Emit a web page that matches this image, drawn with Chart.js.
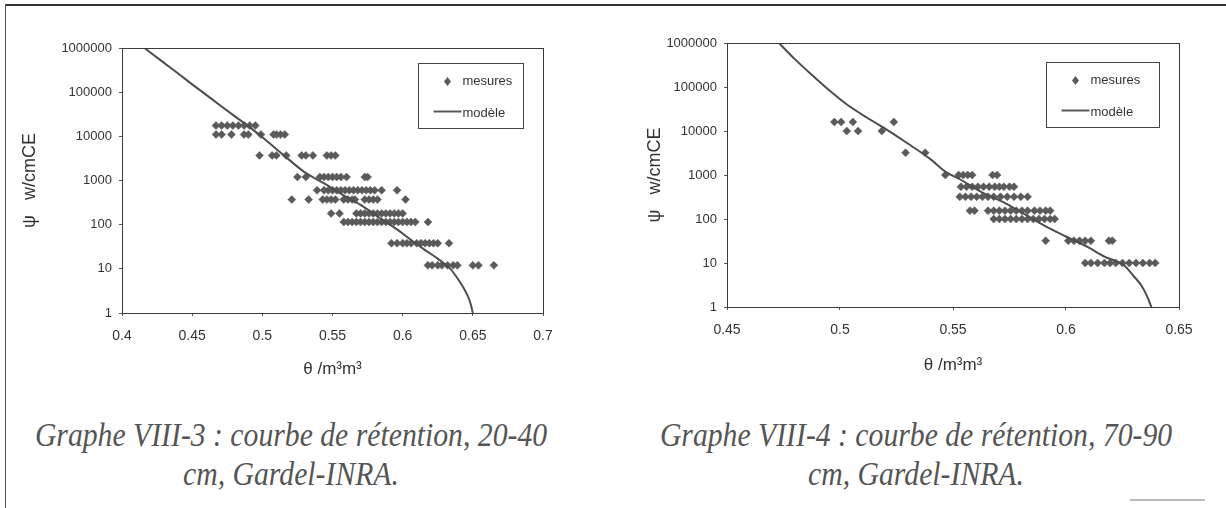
<!DOCTYPE html>
<html>
<head>
<meta charset="utf-8">
<script src="https://cdn.jsdelivr.net/npm/chart.js@4.4.1/dist/chart.umd.min.js"></script>
<style>
  html, body { margin: 0; padding: 0; background: #fff; }
  body { width: 1226px; height: 508px; position: relative; overflow: hidden; }
  .chart { position: absolute; top: 0; height: 400px; }
  #wrap3 { left: 0; width: 600px; }
  #wrap4 { left: 610px; width: 616px; }
  .cap {
    position: absolute; top: 416px; transform: translateX(-50%) scaleX(0.9);
    font-family: "Liberation Serif", "Times New Roman", serif; font-style: italic;
    font-size: 33px; line-height: 39px; color: #555; text-align: center; white-space: nowrap;
  }
  .rule { position: absolute; background: #333; }
</style>
</head>
<body>
<div class="rule" style="left:5px;top:4px;width:1221px;height:2px;"></div>
<div class="rule" style="left:5px;top:4px;width:1px;height:504px;background:#555;"></div>
<div class="rule" style="left:1130px;top:499px;width:75px;height:2px;background:#bbb;"></div>

<div class="chart" id="wrap3"><canvas id="g3" width="600" height="400"></canvas></div>
<div class="chart" id="wrap4"><canvas id="g4" width="616" height="400"></canvas></div>

<div class="cap" style="left:291px;">Graphe VIII-3 : courbe de rétention, 20-40<br>cm, Gardel-INRA.</div>
<div class="cap" style="left:916px;">Graphe VIII-4 : courbe de rétention, 70-90<br>cm, Gardel-INRA.</div>

<script>
/* ── data ─────────────────────────────────────────────────────── */

const psiTicks = [1, 10, 100, 1000, 10000, 100000, 1000000];

/* Graphe VIII-3 : 20-40 cm */
const g3ThetaTicks = [0.4, 0.45, 0.5, 0.55, 0.6, 0.65, 0.7];
const g3Levels = [17500, 11000, 3700, 1200, 600, 370, 180, 115, 38, 12];
const g3Theta = [
  [0.467, 0.471, 0.475, 0.479, 0.483, 0.487, 0.491, 0.495],
  [0.467, 0.471, 0.478, 0.487, 0.490, 0.499, 0.508, 0.510, 0.513, 0.516],
  [0.498, 0.507, 0.510, 0.517, 0.528, 0.531, 0.536, 0.546, 0.549, 0.552],
  [0.525, 0.531, 0.541, 0.544, 0.547, 0.550, 0.553, 0.556, 0.560, 0.573, 0.575],
  [0.539, 0.544, 0.547, 0.550, 0.553, 0.556, 0.559, 0.562, 0.565, 0.568, 0.571, 0.574, 0.577, 0.580, 0.585, 0.596],
  [0.521, 0.533, 0.543, 0.546, 0.549, 0.552, 0.558, 0.561, 0.564, 0.566, 0.573, 0.576, 0.579, 0.582, 0.602],
  [0.549, 0.555, 0.567, 0.570, 0.573, 0.576, 0.579, 0.582, 0.585, 0.588, 0.591, 0.594, 0.597, 0.600],
  [0.558, 0.561, 0.564, 0.567, 0.570, 0.573, 0.576, 0.579, 0.582, 0.585, 0.588, 0.591, 0.594, 0.597, 0.600, 0.603, 0.606, 0.609, 0.618],
  [0.592, 0.596, 0.600, 0.603, 0.606, 0.610, 0.613, 0.616, 0.619, 0.622, 0.625, 0.633],
  [0.618, 0.621, 0.625, 0.628, 0.632, 0.636, 0.639, 0.650, 0.654, 0.665]
];
const g3ModelTheta = [0.416, 0.43, 0.44, 0.45, 0.46, 0.47, 0.48, 0.49, 0.50, 0.515, 0.53, 0.545, 0.557, 0.57, 0.584, 0.596, 0.606, 0.615, 0.625, 0.634, 0.640, 0.645, 0.648, 0.650];
const g3ModelPsi   = [1000000, 460000, 265000, 150000, 87000, 50000, 29000, 17000, 9500, 3800, 1550, 830, 480, 280, 140, 78, 45, 28, 17, 10, 5.5, 3, 1.8, 1];

/* Graphe VIII-4 : 70-90 cm */
const g4ThetaTicks = [0.45, 0.5, 0.55, 0.6, 0.65];
const g4Levels = [16000, 10000, 3200, 1000, 540, 320, 155, 100, 32, 10];
const g4Theta = [
  [0.4975, 0.5005, 0.5057, 0.5238],
  [0.503, 0.508, 0.5185],
  [0.529, 0.5377],
  [0.5466, 0.5525, 0.5545, 0.5565, 0.5585, 0.5675, 0.5695],
  [0.5535, 0.556, 0.5585, 0.561, 0.5635, 0.566, 0.5685, 0.5705, 0.5725, 0.575, 0.577],
  [0.553, 0.5555, 0.558, 0.5605, 0.563, 0.5655, 0.568, 0.571, 0.574, 0.577, 0.580, 0.583],
  [0.5575, 0.5595, 0.5655, 0.568, 0.5705, 0.573, 0.5755, 0.578, 0.5805, 0.583, 0.586, 0.5885, 0.591, 0.593],
  [0.568, 0.5705, 0.573, 0.5755, 0.578, 0.5805, 0.583, 0.5855, 0.588, 0.5905, 0.593, 0.595],
  [0.591, 0.601, 0.6035, 0.606, 0.6085, 0.611, 0.619, 0.6205],
  [0.6085, 0.611, 0.614, 0.617, 0.6195, 0.622, 0.625, 0.628, 0.631, 0.634, 0.637, 0.6395]
];
const g4ModelTheta = [0.473, 0.480, 0.488, 0.4955, 0.5026, 0.512, 0.521, 0.530, 0.540, 0.5466, 0.554, 0.563, 0.573, 0.582, 0.591, 0.600, 0.6097, 0.617, 0.6255, 0.630, 0.6335, 0.636, 0.6378];
const g4ModelPsi   = [1000000, 430000, 180000, 82000, 41700, 20000, 10500, 5200, 2300, 1200, 750, 400, 230, 125, 68, 40, 23, 14, 9, 5, 3, 1.7, 1];

/* ── helpers ──────────────────────────────────────────────────── */

const INK = '#5a5a5a';
const TXT = '#333';
const SANS = '"Liberation Sans", Arial, sans-serif';

function measurePoints(levels, thetas) {
  const pts = [];
  levels.forEach((psi, i) => thetas[i].forEach(t => pts.push({ x: t, y: psi })));
  return pts;
}

function modelPoints(thetas, psis) {
  return thetas.map((t, i) => ({ x: t, y: psis[i] }));
}

/* plot frame + legend box drawn inside the plot area, Excel style */
const plotFrame = {
  id: 'plotFrame',
  afterDatasetsDraw(chart, args, o) {
    const a = chart.chartArea;
    const ctx = chart.ctx;
    ctx.save();
    ctx.strokeStyle = '#3a3a3a';
    ctx.lineWidth = 1;
    ctx.strokeRect(Math.round(a.left) + 0.5, Math.round(a.top) + 0.5, Math.round(a.width), Math.round(a.height));

    const x = Math.round(a.left + a.width * o.fx) + 0.5;
    const y = Math.round(a.top + a.height * o.fy) + 0.5;
    const w = o.w, h = o.h;
    ctx.fillStyle = '#fff';
    ctx.fillRect(x, y, w, h);
    ctx.strokeStyle = '#444';
    ctx.strokeRect(x, y, w, h);

    ctx.fillStyle = INK;
    ctx.beginPath();
    const dx = x + 29, dy = y + 18;
    ctx.moveTo(dx, dy - 4.5); ctx.lineTo(dx + 3.5, dy); ctx.lineTo(dx, dy + 4.5); ctx.lineTo(dx - 3.5, dy);
    ctx.closePath(); ctx.fill();

    ctx.strokeStyle = INK; ctx.lineWidth = 2;
    ctx.beginPath(); ctx.moveTo(x + 15, y + 48); ctx.lineTo(x + 43, y + 48); ctx.stroke();

    ctx.fillStyle = TXT;
    ctx.font = '13px ' + SANS;
    ctx.textBaseline = 'middle';
    ctx.fillText('mesures', x + 44, dy);
    ctx.fillText('modèle', x + 44, y + 50);
    ctx.restore();
  }
};

function buildChart(id, cfg) {
  return new Chart(document.getElementById(id), {
    type: 'scatter',
    data: {
      datasets: [
        {
          label: 'modèle',
          data: modelPoints(cfg.modelTheta, cfg.modelPsi),
          showLine: true,
          borderColor: '#4d4d4d',
          borderWidth: 2,
          pointRadius: 0,
          cubicInterpolationMode: 'monotone',
          order: 1,
        },
        {
          label: 'mesures',
          data: measurePoints(cfg.levels, cfg.theta),
          pointStyle: 'rectRot',
          pointRadius: 4,
          backgroundColor: INK,
          borderColor: INK,
          borderWidth: 0.5,
          order: 2,
        },
      ],
    },
    options: {
      responsive: false,
      devicePixelRatio: 1,
      animation: false,
      layout: { padding: { top: cfg.top, right: cfg.right, left: 0, bottom: 0 } },
      plugins: {
        legend: { display: false },
        tooltip: { enabled: false },
        plotFrame: cfg.legend,
      },
      scales: {
        x: {
          type: 'linear',
          min: cfg.thetaTicks[0],
          max: cfg.thetaTicks[cfg.thetaTicks.length - 1],
          afterBuildTicks: s => { s.ticks = cfg.thetaTicks.map(v => ({ value: v })); },
          afterFit: s => { s.height = cfg.xHeight; },
          ticks: { color: TXT, font: { family: SANS, size: 14 }, padding: 12, callback: v => String(v) },
          grid: { drawOnChartArea: false, drawTicks: true, tickLength: 3, color: '#555' },
          border: { display: true, color: '#3a3a3a' },
          title: {
            display: true, text: 'θ /m³m³', color: TXT,
            font: { family: SANS, size: 17 },
            padding: { top: 0, bottom: cfg.xTitlePad },
          },
        },
        y: {
          type: 'logarithmic',
          min: 1,
          max: 1000000,
          afterBuildTicks: s => { s.ticks = psiTicks.map(v => ({ value: v })); },
          afterFit: s => { s.width = cfg.yWidth; },
          ticks: { color: TXT, font: { family: SANS, size: 13 }, padding: 7, callback: v => String(v) },
          grid: { drawOnChartArea: false, drawTicks: true, tickLength: 3, color: '#555' },
          border: { display: true, color: '#3a3a3a' },
          title: {
            display: true, text: 'ψ   w/cmCE', color: TXT,
            font: { family: SANS, size: 18 },
            padding: { top: cfg.yTitlePad, bottom: 0 },
          },
        },
      },
    },
    plugins: [plotFrame],
  });
}

/* ── render ───────────────────────────────────────────────────── */

buildChart('g3', {
  levels: g3Levels, theta: g3Theta,
  modelTheta: g3ModelTheta, modelPsi: g3ModelPsi,
  thetaTicks: g3ThetaTicks,
  top: 48, right: 57, xHeight: 87, yWidth: 122,
  xTitlePad: 20, yTitlePad: 19,
  legend: { fx: 0.703, fy: 0.057, w: 105, h: 65 },
});

buildChart('g4', {
  levels: g4Levels, theta: g4Theta,
  modelTheta: g4ModelTheta, modelPsi: g4ModelPsi,
  thetaTicks: g4ThetaTicks,
  top: 43, right: 47, xHeight: 93, yWidth: 117,
  xTitlePad: 24, yTitlePad: 34,
  legend: { fx: 0.706, fy: 0.072, w: 113, h: 65 },
});
</script>
</body>
</html>
